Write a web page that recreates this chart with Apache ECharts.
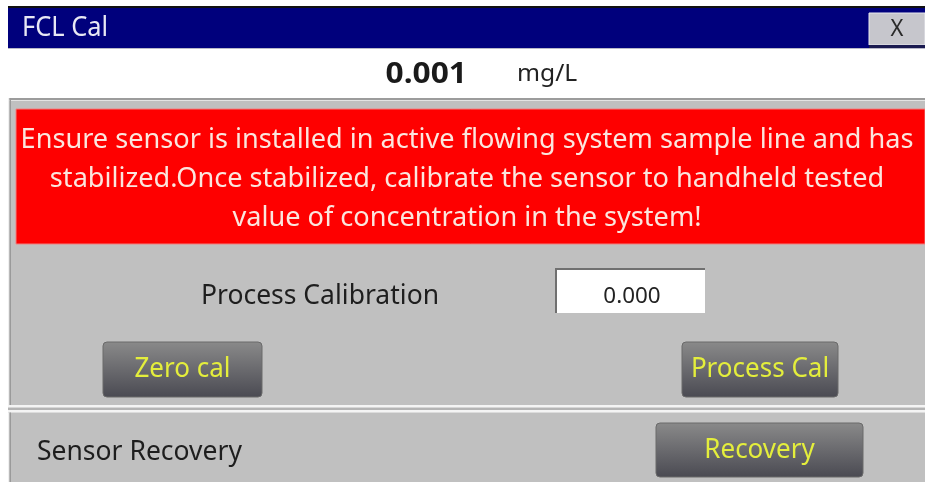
<!DOCTYPE html>
<html>
<head>
<meta charset="utf-8">
<script src="https://cdn.jsdelivr.net/npm/echarts@6/dist/echarts.min.js"></script>
<style>
html,body{margin:0;padding:0;background:#fff}
#main{width:925px;height:482px}
</style>
</head>
<body>
<div id="main"></div>
<script>
var titleText = 'FCL Cal';
var closeText = 'X';
var readingValue = '0.001';
var readingUnit = 'mg/L';
var warningLines = [
	'Ensure sensor is installed in active flowing system sample line and has',
	'stabilized.Once stabilized, calibrate the sensor to handheld tested',
	'value of concentration in the system!'
];
var calLabel = 'Process Calibration';
var calInput = '0.000';
var calButtons = ['Zero cal', 'Process Cal'];
var recoveryLabel = 'Sensor Recovery';
var recoveryButton = 'Recovery';

var myChart = echarts.init(document.getElementById('main'));
var font = '"Noto Sans", "Open Sans", sans-serif';

function txt(x, y, t, size, color, align, sx, bold){ //文字 横向略拉伸 纵向拉高
	return {
		type: 'text', x: x, y: y, scaleX: sx || 1, scaleY: 1.1,
		style: {text: t, fill: color, font: (bold ? 'bold ' : '') + size + 'px ' + font, align: align || 'left', verticalAlign: 'middle'}
	};
}
function btnFill(){ //按钮渐变
	return new echarts.graphic.LinearGradient(0, 0, 0, 1, [
		{offset: 0, color: '#8a8a8a'},
		{offset: 1, color: '#4a4a52'}
	]);
}
function button(x, y, w, h, label){
	return [{
		type: 'rect',
		shape: {x: x, y: y, width: w, height: h, r: 4},
		style: {fill: btnFill(), stroke: '#6a6a6a', lineWidth: 1}
	}, txt(x + w / 2, y + h / 2, label, 25, '#e4ee3c', 'center', 1.04)];
}

var els = [];
// 顶部标题栏
els.push({type: 'rect', shape: {x: 8, y: 6, width: 917, height: 2}, style: {fill: '#111'}});
els.push({type: 'rect', shape: {x: 8, y: 8, width: 917, height: 40}, style: {fill: '#00007c'}});
els.push(txt(22, 28, titleText, 24, '#e8e8f4', 'left', 1.06));
els.push({type: 'rect', shape: {x: 869, y: 13, width: 56, height: 32}, style: {fill: '#c6c6cc', stroke: '#e8e8ee', lineWidth: 1}});
els.push({type: 'rect', shape: {x: 869, y: 45, width: 56, height: 3}, style: {fill: '#1a1a50'}});
els.push(txt(897, 29, closeText, 22, '#2a2a2a', 'center', 1));
els.push({type: 'rect', shape: {x: 8, y: 48, width: 917, height: 1}, style: {fill: '#b8b8c8'}});

// 读数
els.push(txt(467, 75, readingValue, 26, '#1a1a1a', 'right', 1.22, true));
els.push(txt(517, 74, readingUnit, 22, '#222', 'left', 1.12));

// 校准面板
els.push({type: 'rect', shape: {x: 8, y: 98, width: 917, height: 307}, style: {fill: '#c0c0c0'}});
els.push({type: 'rect', shape: {x: 8, y: 98, width: 917, height: 2}, style: {fill: '#9c9c9c'}});
els.push({type: 'rect', shape: {x: 8, y: 100, width: 917, height: 1}, style: {fill: '#e4e4e4'}});
els.push({type: 'rect', shape: {x: 8, y: 98, width: 1.5, height: 307}, style: {fill: '#f0f0f0'}});
els.push({type: 'rect', shape: {x: 9.5, y: 98, width: 1.5, height: 307}, style: {fill: '#9a9a9a'}});

// 红色提示框
els.push({type: 'rect', shape: {x: 16, y: 109, width: 909, height: 135}, style: {fill: '#fe0000', stroke: '#f08080', lineWidth: 1}});
warningLines.forEach(function(t, i){
	els.push(txt(467, 140 + i * 39, t, 25, '#fbe6de', 'center', 1.085));
});

els.push(txt(320, 296, calLabel, 25, '#1e1e1e', 'center', 1.06));
els.push({type: 'rect', shape: {x: 555, y: 268, width: 150, height: 45}, style: {fill: '#fff'}});
els.push({type: 'polyline', shape: {points: [[556, 313], [556, 269], [705, 269]]}, style: {stroke: '#707070', lineWidth: 2, fill: null}});
els.push(txt(632, 297, calInput, 20, '#222', 'center', 1.12));

els = els.concat(button(103, 342, 159, 55, calButtons[0]));
els = els.concat(button(682, 342, 156, 55, calButtons[1]));

// 分隔线
els.push({type: 'rect', shape: {x: 8, y: 405, width: 917, height: 2.5}, style: {fill: '#f4f4f4'}});
els.push({type: 'rect', shape: {x: 8, y: 407.5, width: 917, height: 2.5}, style: {fill: '#b4b4b4'}});
els.push({type: 'rect', shape: {x: 8, y: 410, width: 917, height: 2.5}, style: {fill: '#f4f4f4'}});

// 恢复面板
els.push({type: 'rect', shape: {x: 8, y: 412.5, width: 917, height: 70}, style: {fill: '#c0c0c0'}});
els.push({type: 'rect', shape: {x: 8, y: 412.5, width: 1.5, height: 70}, style: {fill: '#f0f0f0'}});
els.push({type: 'rect', shape: {x: 9.5, y: 412.5, width: 1.5, height: 70}, style: {fill: '#9a9a9a'}});
els.push(txt(37, 452, recoveryLabel, 25, '#1e1e1e', 'left', 1.06));
els = els.concat(button(656, 423, 207, 54, recoveryButton));

myChart.setOption({
	animation: false,
	graphic: {elements: els}
});
</script>
</body>
</html>
